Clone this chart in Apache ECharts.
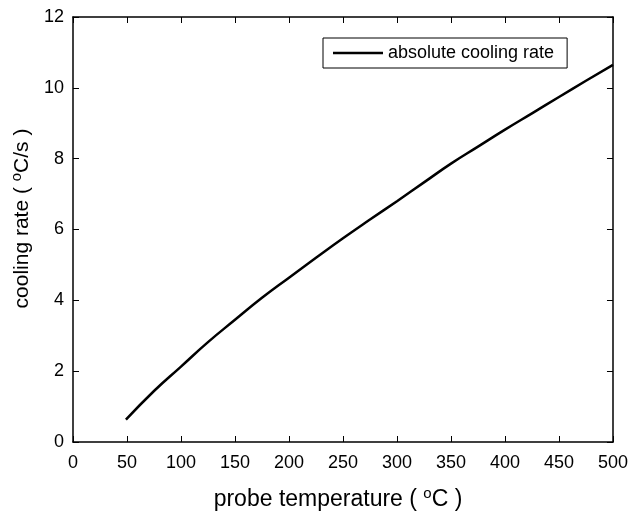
<!DOCTYPE html>
<html>
<head>
<meta charset="utf-8">
<script src="https://cdn.jsdelivr.net/npm/echarts@6/dist/echarts.min.js"></script>
<style>
  html, body { margin: 0; padding: 0; background: #fff; }
  #main { width: 631px; height: 516px; }
</style>
</head>
<body>
<div id="main"></div>
<script>
// probe temperature (x) and cooling rate (y)
var temps = [49, 75, 100, 125, 150, 175, 200, 225, 250, 275, 300, 325, 350, 375, 400, 425, 450, 475, 500];
var rates = [0.63, 1.44, 2.13, 2.82, 3.45, 4.07, 4.64, 5.2, 5.75, 6.28, 6.8, 7.33, 7.86, 8.34, 8.82, 9.28, 9.74, 10.2, 10.65];

var seriesName = 'absolute cooling rate';

var points = [];
for (let i = 0; i < temps.length; i++) {
    points.push([temps[i], rates[i]]);
}

var chart = document.getElementById('main');
var echart = echarts.init(chart);

var fontFam = 'Liberation Sans, Arial, sans-serif';

//轴的公共样式
var tickStyle = {show: true, inside: true, length: 6, lineStyle: {color: '#000', width: 1}};
var lineStyle = {show: true, onZero: false, lineStyle: {color: '#000', width: 1.5}};

let option = {
    backgroundColor: '#fff',
    animation: false,
    grid: {
        left: 73,
        right: 16,
        top: 17,
        bottom: 73
    },
    legend: {
        data: [seriesName],
        left: 323,
        top: 38,
        orient: 'horizontal',
        backgroundColor: '#fff',
        borderColor: '#000',
        borderWidth: 1,
        padding: [6, 13, 6, 10],
        itemWidth: 50,
        itemHeight: 18,
        icon: 'path://M0,8 L50,8 L50,10.5 L0,10.5 Z',
        itemStyle: {color: '#000'},
        textStyle: {fontSize: 18, color: '#000', fontFamily: fontFam}
    },
    xAxis: [
        {
            type: 'value',
            min: 0,
            max: 500,
            interval: 50,
            position: 'bottom',
            axisLine: lineStyle,
            axisTick: tickStyle,
            splitLine: {show: false},
            axisLabel: {fontSize: 18, color: '#000', margin: 12, fontFamily: fontFam},
            name: 'probe temperature ( {sup|o}C )',
            nameLocation: 'middle',
            nameGap: 44,
            nameTextStyle: {
                fontSize: 23, color: '#000', fontFamily: fontFam,
                padding: [0, 10, 0, 0],
                rich: {sup: {fontSize: 15, color: '#000', fontFamily: fontFam, padding: [0, 0, 12, 0]}}
            }
        },
        {
            type: 'value',
            min: 0,
            max: 500,
            interval: 50,
            position: 'top',
            axisLine: lineStyle,
            axisTick: tickStyle,
            splitLine: {show: false},
            axisLabel: {show: false}
        }
    ],
    yAxis: [
        {
            type: 'value',
            min: 0,
            max: 12,
            interval: 2,
            position: 'left',
            axisLine: lineStyle,
            axisTick: tickStyle,
            splitLine: {show: false},
            axisLabel: {fontSize: 18, color: '#000', margin: 9, fontFamily: fontFam},
            name: 'cooling rate ( {sup|o}C/s )',
            nameLocation: 'middle',
            nameGap: 36,
            nameRotate: 90,
            nameTextStyle: {
                fontSize: 21, color: '#000', fontFamily: fontFam,
                padding: [0, 0, 0, 22],
                rich: {sup: {fontSize: 15, color: '#000', fontFamily: fontFam, padding: [0, 0, 11, 0]}}
            }
        },
        {
            type: 'value',
            min: 0,
            max: 12,
            interval: 2,
            position: 'right',
            axisLine: lineStyle,
            axisTick: tickStyle,
            splitLine: {show: false},
            axisLabel: {show: false}
        }
    ],
    series: [
        {
            name: seriesName,
            type: 'line',
            data: points,
            smooth: true,
            showSymbol: false,
            symbol: 'none',
            lineStyle: {color: '#000', width: 2.5},
            itemStyle: {color: '#000'}
        }
    ]
};
echart.setOption(option);
</script>
</body>
</html>
